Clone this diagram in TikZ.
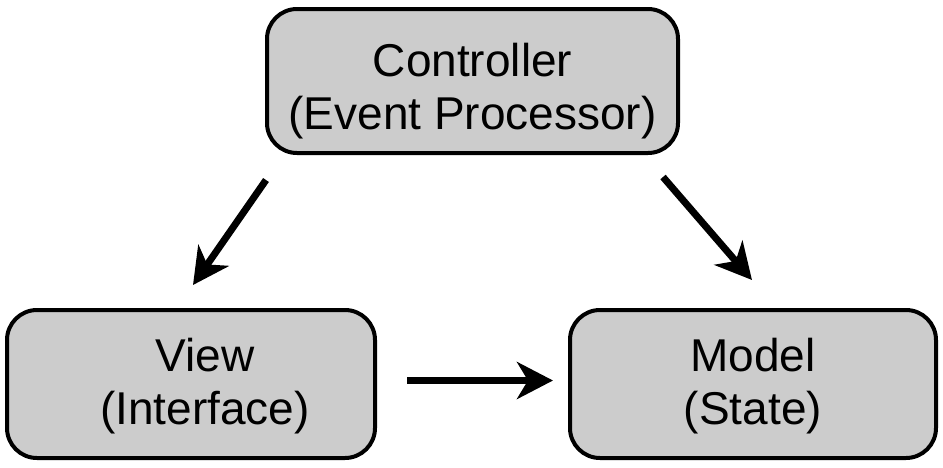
\documentclass[tikz,border=0pt]{standalone}
\usepackage{fontspec}
\setmainfont{Liberation Sans}
\usetikzlibrary{arrows.meta}
\definecolor{boxfill}{HTML}{CCCCCC}
\definecolor{inkcol}{HTML}{000000}
\begin{document}
\begin{tikzpicture}[x=1pt,y=1pt,
  mvcbox/.style={draw=inkcol,fill=boxfill,line width=4pt,rounded corners=30pt,inner sep=0pt},
  mvctext/.style={inner sep=0pt,align=center,font=\fontsize{46}{53}\selectfont,text=inkcol},
  flow/.style={draw=inkcol,line width=7pt,
    -{Stealth[length=36pt,width=37pt,inset=11pt]}}]
\useasboundingbox (0,0) rectangle (943,-467);
\node[mvcbox,minimum width=411pt,minimum height=144pt] (ctrl) at (472.5,-81) {};
\node[mvcbox,minimum width=368pt,minimum height=148pt] (view) at (191,-384) {};
\node[mvcbox,minimum width=366pt,minimum height=148pt] (model) at (753,-384) {};
\node[mvctext] (ctrltxt) at ([yshift=-10.5pt]ctrl.center) {Controller\\(Event Processor)};
\node[mvctext] (viewtxt) at ([xshift=14pt,yshift=-2.5pt]view.center) {View\\(Interface)};
\node[mvctext] (modeltxt) at ([yshift=-2.5pt]model.center) {Model\\(State)};
\coordinate (c1s) at (266,-180);
\coordinate (c1e) at (193,-285);
\coordinate (c2s) at (663,-177);
\coordinate (c2e) at (752,-280);
\coordinate (vms) at (407,-380.5);
\coordinate (vme) at (553,-380.5);
\draw[flow] (c1s) -- (c1e);
\draw[flow] (c2s) -- (c2e);
\draw[flow] (vms) -- (vme);
\end{tikzpicture}
\end{document}
